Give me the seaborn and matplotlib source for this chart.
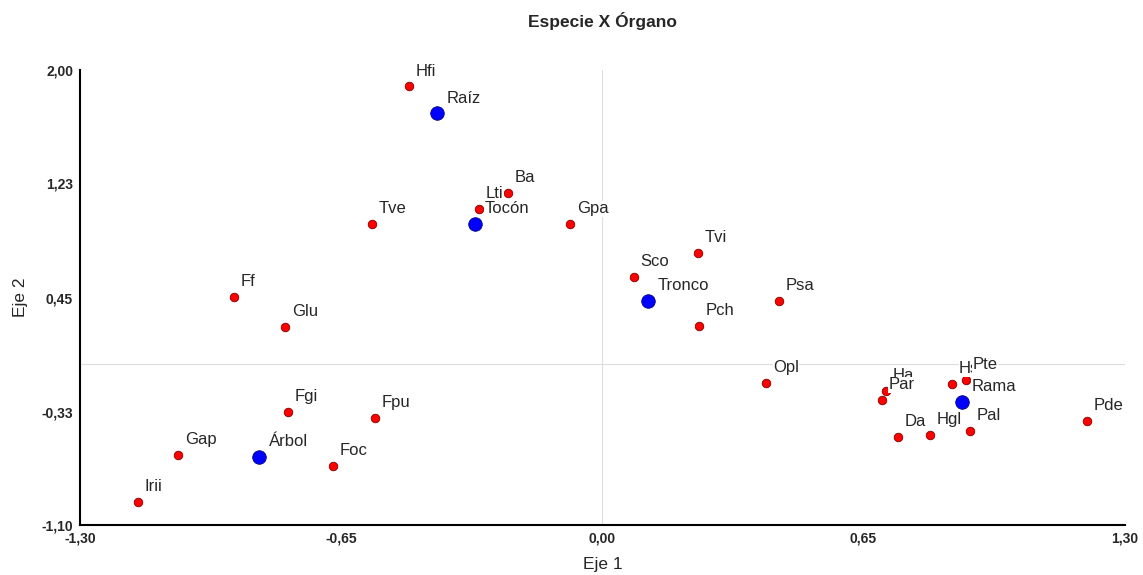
import pandas as pd
import seaborn as sns
import matplotlib.pyplot as plt

# especies (rojo)
especies = ["Hfi", "Lti", "Ba", "Tve", "Gpa", "Tvi", "Sco", "Psa", "Pch", "Ff", "Glu",
            "Opl", "Ha", "Par", "Hs", "Pte", "Da", "Hgl", "Pal", "Pde", "Fgi", "Fpu",
            "Gap", "Foc", "Irii"]
esp_x = [-0.481, -0.307, -0.235, -0.574, -0.081, 0.238, 0.078, 0.439, 0.240, -0.917, -0.790,
         0.407, 0.705, 0.695, 0.870, 0.904, 0.735, 0.815, 0.914, 1.206, -0.783, -0.566,
         -1.056, -0.671, -1.156]
esp_y = [1.890, 1.052, 1.161, 0.950, 0.950, 0.752, 0.589, 0.425, 0.255, 0.453, 0.248,
         -0.133, -0.187, -0.249, -0.140, -0.112, -0.501, -0.487, -0.460, -0.392, -0.330, -0.371,
         -0.623, -0.698, -0.943]

# organos (azul)
organos = ["Raíz", "Tocón", "Tronco", "Rama", "Árbol"]
org_x = [-0.412, -0.317, 0.113, 0.894, -0.855]
org_y = [1.706, 0.954, 0.425, -0.262, -0.637]

x_ticks = [-1.30, -0.65, 0.00, 0.65, 1.30]
y_ticks = [-1.10, -0.33, 0.45, 1.23, 2.00]

df = pd.DataFrame({
    "nombre": especies + organos,
    "x": esp_x + org_x,
    "y": esp_y + org_y,
    "tipo": ["Especie"] * len(especies) + ["Órgano"] * len(organos),
})

sns.set_style("white")
plt.rcParams["font.family"] = ["Liberation Sans", "DejaVu Sans"]

fig = plt.figure(figsize=(11.43, 5.75), dpi=100)
ax = fig.add_axes([0.070, 0.087, 0.914, 0.791])

ax.axhline(0, color="#dddddd", lw=0.8, zorder=0)
ax.axvline(0, color="#dddddd", lw=0.8, zorder=0)

sns.scatterplot(data=df[df.tipo == "Especie"], x="x", y="y", color="#ff0000",
                edgecolor="#800000", linewidth=0.6, s=38, ax=ax, zorder=3)
sns.scatterplot(data=df[df.tipo == "Órgano"], x="x", y="y", color="#0000ff",
                edgecolor="#000080", linewidth=0.6, s=95, ax=ax, zorder=3)

for _, r in df.iterrows():
    off = (5, 11) if r.tipo == "Especie" else (7, 11)
    ax.annotate(r.nombre, (r.x, r.y), xytext=off, textcoords="offset points",
                fontsize=12, ha="left", va="center", zorder=4,
                bbox=dict(fc="white", ec="none", pad=0.2))

ax.set_xlim(-1.30, 1.30)
ax.set_ylim(-1.10, 2.00)
ax.set_xticks(x_ticks)
ax.set_yticks(y_ticks)
ax.set_xticklabels([f"{v:.2f}".replace(".", ",") for v in x_ticks], fontweight="bold", fontsize=10)
ax.set_yticklabels([f"{v:.2f}".replace(".", ",") for v in y_ticks], fontweight="bold", fontsize=10)
ax.tick_params(axis="both", direction="out", length=3, width=1, color="black", pad=2)

for s in ["top", "right"]:
    ax.spines[s].set_visible(False)
for s in ["left", "bottom"]:
    ax.spines[s].set_color("black")
    ax.spines[s].set_linewidth(1.5)

ax.set_xlabel("Eje 1", fontsize=12.5, labelpad=8)
ax.set_ylabel("Eje 2", fontsize=12.5, labelpad=10)
ax.set_title("Especie X Órgano", fontsize=12.5, fontweight="bold", pad=31)

fig.savefig("out.png", dpi=100)
